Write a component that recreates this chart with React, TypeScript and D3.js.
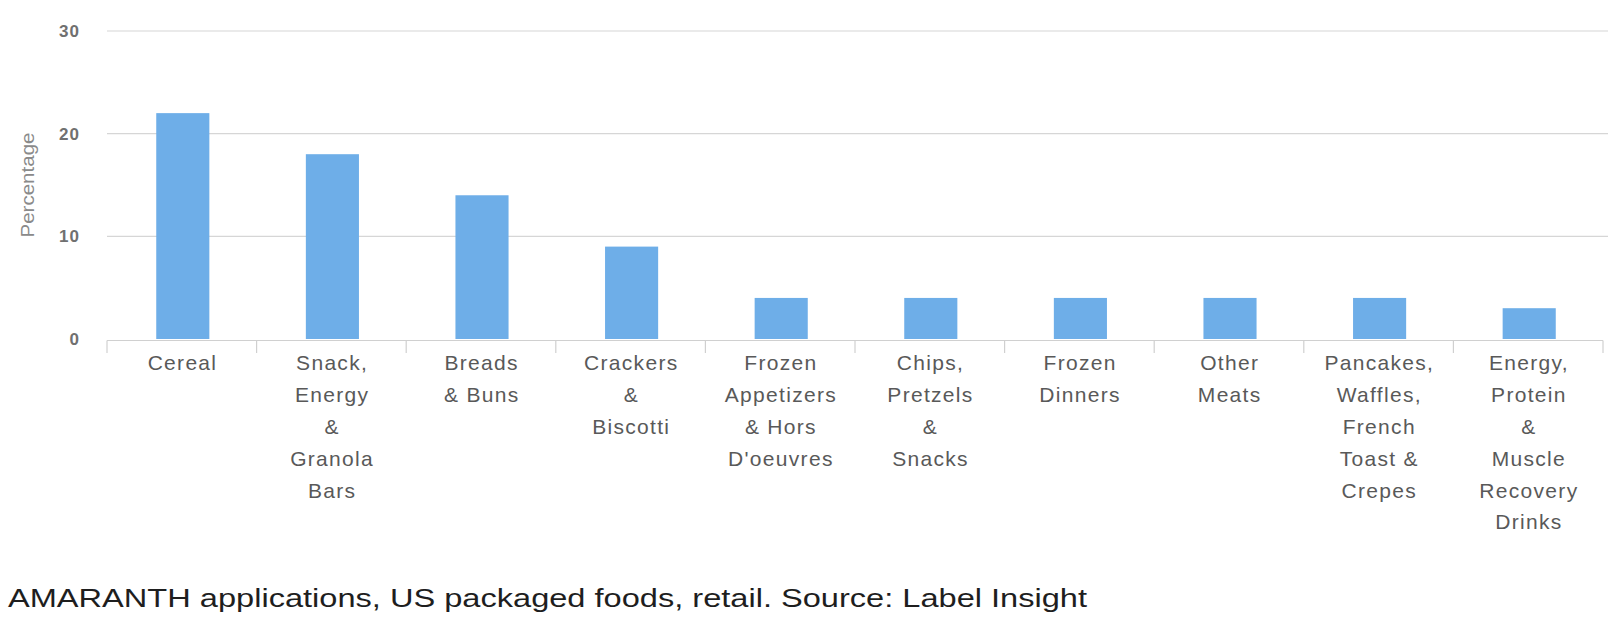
import React from "react";
import * as d3 from "d3";

const categories: string[][] = [
  ["Cereal"],
  ["Snack,", "Energy", "&", "Granola", "Bars"],
  ["Breads", "& Buns"],
  ["Crackers", "&", "Biscotti"],
  ["Frozen", "Appetizers", "& Hors", "D'oeuvres"],
  ["Chips,", "Pretzels", "&", "Snacks"],
  ["Frozen", "Dinners"],
  ["Other", "Meats"],
  ["Pancakes,", "Waffles,", "French", "Toast &", "Crepes"],
  ["Energy,", "Protein", "&", "Muscle", "Recovery", "Drinks"],
];
const values: number[] = [22, 18, 14, 9, 4, 4, 4, 4, 4, 3];
const yTicks: number[] = [0, 10, 20, 30];
const yLabel = "Percentage";
const caption = "AMARANTH applications, US packaged foods, retail. Source: Label Insight";

const W = 1608;
const H = 634;
const left = 107;
const right = 1603;
const top = 31;
const bottom = 339;

export default function App() {
  const keys = categories.map((c) => c.join(" "));
  const x = d3.scaleBand<string>().domain(keys).range([left, right]).padding(0);
  const y = d3.scaleLinear().domain([0, 30]).range([bottom, top]);
  const bw = x.bandwidth();
  const barW = bw * 0.355;

  return (
    <svg
      width={W}
      height={H}
      style={{ position: "absolute", left: 0, top: 0, background: "#fff" }}
      fontFamily="'Liberation Sans', Arial, sans-serif"
    >
      {yTicks.map((t) => (
        <g key={t}>
          {t > 0 && (
            <line x1={left} x2={W} y1={y(t)} y2={y(t)} stroke="#d6d6d6" strokeWidth={1.2} />
          )}
          <text
            x={80}
            y={y(t)}
            dy="0.35em"
            textAnchor="end"
            fontSize={17}
            fontWeight="bold"
            fill="#707070"
            letterSpacing={1}
          >
            {t}
          </text>
        </g>
      ))}
      <text
        transform={`translate(34,185) rotate(-90)`}
        textAnchor="middle"
        fontSize={18}
        fill="#8a8a8a"
        textLength={105}
        lengthAdjust="spacingAndGlyphs"
      >
        {yLabel}
      </text>
      {values.map((v, i) => {
        const k = keys[i];
        const cx = (x(k) as number) + bw / 2 + 1;
        return (
          <rect
            key={k}
            x={cx - barW / 2}
            y={y(v)}
            width={barW}
            height={y(0) - y(v)}
            fill="#6eaee8"
          />
        );
      })}
      <line x1={left} x2={right} y1={bottom + 1.5} y2={bottom + 1.5} stroke="#d0d0d0" strokeWidth={1.2} />
      {keys.concat(["__end"]).map((k, i) => {
        const xx = i < keys.length ? (x(k) as number) : right;
        return (
          <line key={"t" + i} x1={xx} x2={xx} y1={bottom + 1.5} y2={bottom + 14} stroke="#d0d0d0" strokeWidth={1.2} />
        );
      })}
      {categories.map((lines, i) => {
        const k = keys[i];
        const cx = (x(k) as number) + bw / 2 + 0.7;
        return (
          <text key={"l" + k} textAnchor="middle" fontSize={21} fill="#595959" letterSpacing={1.3}>
            {lines.map((ln, j) => (
              <tspan key={j} x={cx} y={363 + j * 31.8} dy="0.35em">
                {ln}
              </tspan>
            ))}
          </text>
        );
      })}
      <text
        x={8}
        y={598}
        dy="0.35em"
        fontSize={26}
        fill="#1e1e1e"
        textLength={1079}
        lengthAdjust="spacingAndGlyphs"
      >
        {caption}
      </text>
    </svg>
  );
}
